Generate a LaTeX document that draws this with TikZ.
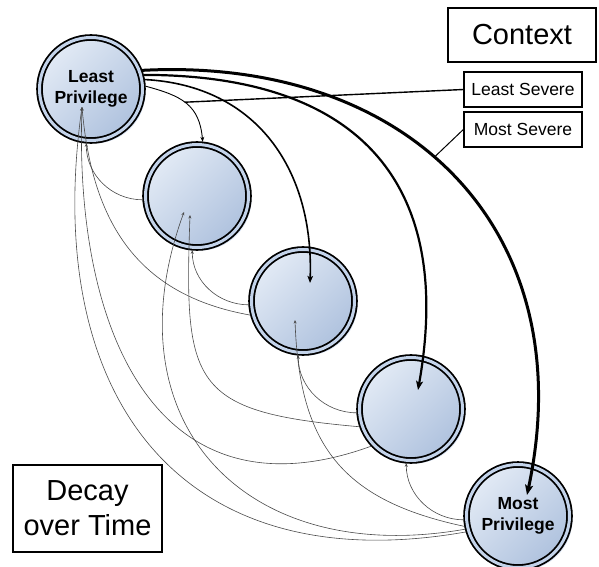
\documentclass[tikz,border=0pt]{standalone}
\usepackage{fontspec}
\setmainfont{Liberation Sans}
\usetikzlibrary{arrows.meta, shadows}

\definecolor{ringblue}{HTML}{C3D3EA}
\definecolor{lightfill}{HTML}{E2EAF5}
\definecolor{darkfill}{HTML}{AFC2DE}
\definecolor{haloblue}{HTML}{C9D7EC}
\definecolor{decaygray}{HTML}{4A4A4A}

\begin{document}
\begin{tikzpicture}[x=1pt, y=1pt]

\tikzset{level/.style = {shape=circle, draw, line width=1.8pt, double=ringblue, double distance=3pt,
    minimum size=103pt, inner sep=0pt, outer sep=3pt, top color=lightfill, bottom color=darkfill, shading angle=45,
    drop shadow={shadow xshift=3pt, shadow yshift=-3pt, fill=haloblue, opacity=.8},
    font=\bfseries\fontsize{17.5}{21}\selectfont, align=center}}
\tikzset{box/.style = {shape=rectangle, draw, line width=1.3pt, fill=white, inner sep=0pt, align=center}}
\tikzset{grant/.style = {-{Stealth[length=10pt, width=8pt, inset=2pt]}}}
\tikzset{decay/.style = {decaygray, line width=.6pt, -{Stealth[length=3.5pt, width=3pt]}}}
\useasboundingbox (0,0) rectangle (599,566);
%levels
\node[level] (L1) at (91,477) {Least\\Privilege};
\node[level] (L2) at (197,370) {};
\node[level] (L3) at (303,265) {};
\node[level] (L4) at (411,157) {};
\node[level] (L5) at (518,50) {Most\\Privilege};
%points inside the levels
\coordinate (d1) at ([shift={(-9,-18)}]L1.center);
\coordinate (d2a) at ([shift={(-13,-16)}]L2.center);
\coordinate (d2b) at ([shift={(-7,-19)}]L2.center);
\coordinate (d3) at ([shift={(-8,-19)}]L3.center);
\coordinate (e3) at ([shift={(7,18)}]L3.center);
\coordinate (e4) at ([shift={(7,19)}]L4.center);
\coordinate (e5) at ([shift={(9,21)}]L5.center);
%decay
\draw[decay] (L2.184) to[out=180, in=270] (L1.265);
\draw[decay] (L3.184) to[out=180, in=270] (L2.265);
\draw[decay] (L4.184) to[out=180, in=270] (L3.265);
\draw[decay] (L5.184) to[out=180, in=270] (L4.265);
\draw[decay] (L3.195) to[out=170, in=275, looseness=1.1] (d1);
\draw[decay] (L4.223) to[out=200, in=268, looseness=1.3] (d1);
\draw[decay] (L5.197) to[out=190, in=262, looseness=1.3] (d1);
\draw[decay] (L4.199) to[out=175, in=268, looseness=1.6] (d2b);
\draw[decay] (L5.194) to[out=190, in=250, looseness=1.35] (d2a);
\draw[decay] (L5.191) to[out=168, in=272, looseness=1.2] (d3);
%context
\draw[-{Stealth[length=5pt, width=4pt]}, line width=.9pt] (L1.3) to[out=-15, in=95, looseness=1.2] coordinate[pos=.47] (lsend) (L2.84);
\draw[grant, line width=1.6pt, -{Stealth[length=7pt, width=5.5pt, inset=1.5pt]}] (L1.10) to[out=-3, in=88, looseness=1.1] (e3);
\draw[grant, line width=2.2pt, -{Stealth[length=9pt, width=7pt, inset=2pt]}] (L1.15) to[out=0, in=80, looseness=1.3] (e4);
\draw[grant, line width=3pt] (L1.20) to[out=3, in=78, looseness=1.2] coordinate[pos=.45] (msend) (e5);
%boxes
\node[box, line width=1.6pt, minimum width=148pt, minimum height=54pt, font=\fontsize{29}{35}\selectfont] (context) at (522,531) {Context};
\node[box, minimum width=118pt, minimum height=35pt, font=\fontsize{17.5}{21}\selectfont] (least) at (523,476.5) {Least Severe};
\node[box, minimum width=118pt, minimum height=35pt, font=\fontsize{17.5}{21}\selectfont] (most) at (523,436.5) {Most Severe};
\node[box, minimum width=149pt, minimum height=87pt, font=\fontsize{29}{35}\selectfont] (decay) at (87.5,57.5) {Decay\\over Time};
\draw[line width=1.4pt] (least.west) -- (lsend);
\draw[line width=1pt] (most.west) -- (msend);

\end{tikzpicture}
\end{document}
